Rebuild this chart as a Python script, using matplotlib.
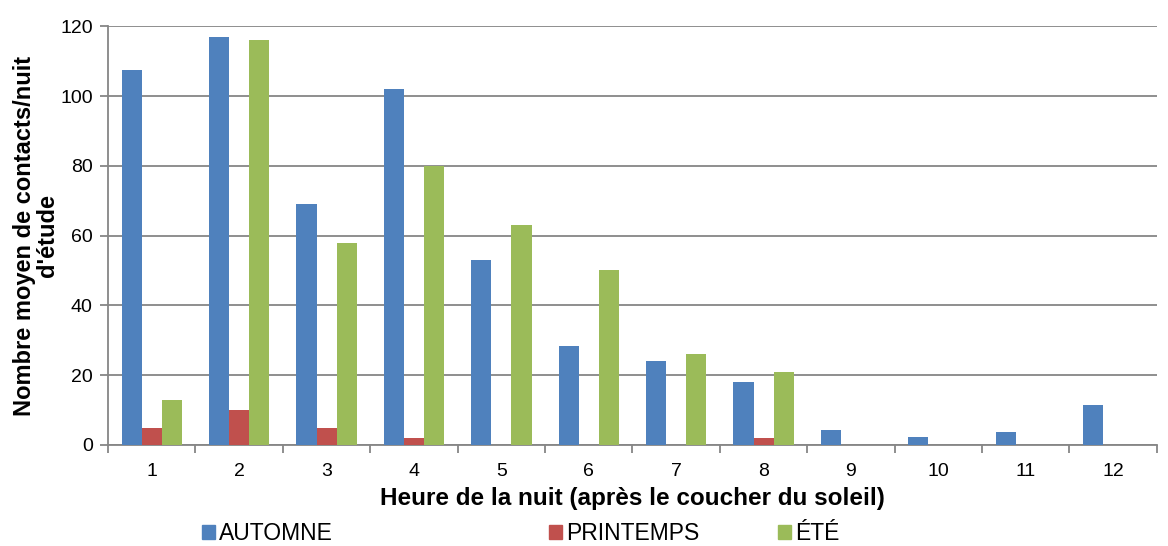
import numpy as np
import matplotlib.pyplot as plt
from matplotlib.patches import Patch

plt.rcParams['font.family'] = ['Liberation Sans', 'DejaVu Sans']

heures = ['1', '2', '3', '4', '5', '6', '7', '8', '9', '10', '11', '12']
automne = [107.5, 117, 69, 102, 53, 28.5, 24, 18, 4.3, 2.4, 3.6, 11.6]
printemps = [5, 10, 5, 2, 0, 0, 0, 2, 0, 0, 0, 0]
ete = [13, 116, 58, 80, 63, 50, 26, 21, 0, 0, 0, 0]

series = [('AUTOMNE', automne, '#4F81BD'),
          ('PRINTEMPS', printemps, '#C0504D'),
          ('ÉTÉ', ete, '#9BBB59')]
# left edge of each legend square, in figure pixels
legend_x = [202, 549, 778]


def main():
    fig = plt.figure(figsize=(11.68, 5.46), dpi=100)
    ax = fig.add_axes([0.0925, 0.185, 0.898, 0.767])

    x = np.arange(len(heures))
    w = 0.23
    for i, (name, vals, col) in enumerate(series):
        ax.bar(x + (i - 1) * w, vals, width=w, color=col, label=name, zorder=3)

    grid_col = '#868686'
    ax.set_ylim(0, 120)
    ax.set_yticks(range(0, 121, 20))
    ax.set_xlim(-0.5, len(heures) - 0.5)
    ax.set_xticks(x)
    ax.set_xticklabels(heures)
    ax.set_xticks(np.arange(-0.5, len(heures)), minor=True)
    ax.tick_params(axis='x', which='major', length=0, pad=13, labelsize=14)
    ax.tick_params(axis='x', which='minor', length=6, color=grid_col, width=1.3)
    ax.tick_params(axis='y', length=6, color=grid_col, width=1.3, labelsize=14, pad=5)
    ax.yaxis.grid(True, color=grid_col, linewidth=1.3, zorder=0)
    for side in ['top', 'right']:
        ax.spines[side].set_visible(False)
    for side in ['left', 'bottom']:
        ax.spines[side].set_color(grid_col)
        ax.spines[side].set_linewidth(1.3)

    ax.set_ylabel("Nombre moyen de contacts/nuit\nd'étude", fontsize=17,
                  fontweight='bold', labelpad=0.5, linespacing=1.05)
    ax.set_xlabel('Heure de la nuit (après le coucher du soleil)', fontsize=17.5,
                  fontweight='bold', labelpad=5)

    for (name, vals, col), lx in zip(series, legend_x):
        fig.legend(handles=[Patch(color=col, label=name)], loc='center left',
                   bbox_to_anchor=(lx / 1168, 1 - 534 / 546), frameon=False,
                   fontsize=16.5, handlelength=0.55, handleheight=0.55,
                   handletextpad=0.2, borderpad=0, borderaxespad=0)

    fig.savefig('out.png', dpi=100)


if __name__ == '__main__':
    main()
